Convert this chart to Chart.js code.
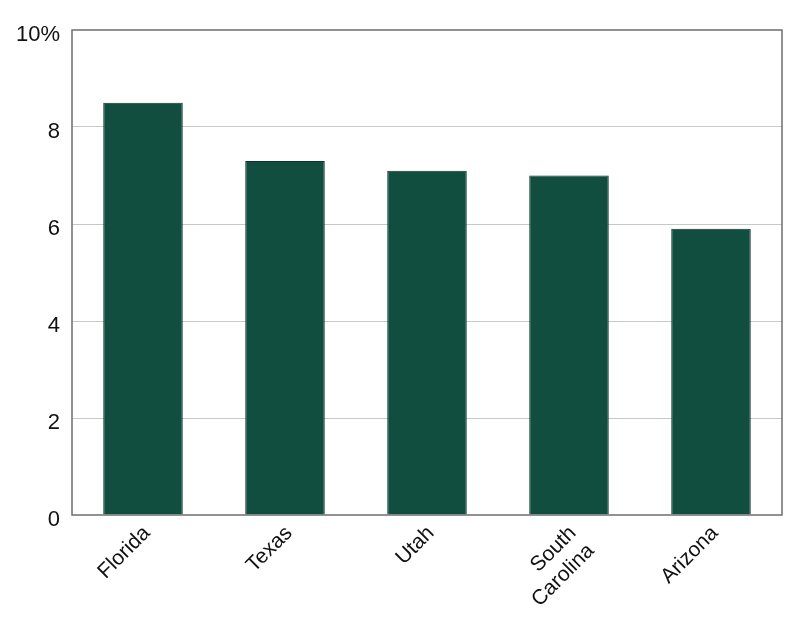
<!DOCTYPE html>
<html>
<head>
<meta charset="utf-8">
<script src="https://cdn.jsdelivr.net/npm/chart.js@4"></script>
<style>
  html, body { margin: 0; padding: 0; background: #fff; }
  #wrap { width: 800px; height: 620px; }
</style>
</head>
<body>
<div id="wrap"><canvas id="grafico"></canvas></div>
<script>
// dados do gráfico
const estados = ['Florida', 'Texas', 'Utah', ['South', 'Carolina'], 'Arizona'];
const valores = [8.5, 7.3, 7.1, 7.0, 5.9];
const yTicks = [0, 2, 4, 6, 8, 10];

// moldura em volta da área do gráfico
const moldura = {
    id: 'moldura',
    afterDatasetsDraw(chart) {
        const a = chart.chartArea;
        const ctx = chart.ctx;
        ctx.save();
        ctx.strokeStyle = '#6e6e6e';
        ctx.lineWidth = 1.5;
        ctx.strokeRect(a.left, a.top, a.right - a.left, a.bottom - a.top);
        ctx.restore();
    }
};

Chart.defaults.font.family = '"Liberation Sans", Arial, Helvetica, sans-serif';
Chart.defaults.color = '#111';

new Chart(document.getElementById('grafico').getContext('2d'), {
    type: 'bar',
    data: {
        labels: estados,
        datasets: [{
            data: valores,
            backgroundColor: '#114e40',
            borderColor: '#0a3329',
            borderWidth: 1,
            categoryPercentage: 1,
            barPercentage: 0.56
        }]
    },
    options: {
        responsive: true,
        maintainAspectRatio: false,
        animation: false,
        layout: { padding: { top: 30, right: 18, left: 0, bottom: 0 } },
        plugins: {
            legend: { display: false },
            tooltip: { enabled: false }
        },
        scales: {
            x: {
                grid: { display: false, drawTicks: false },
                border: { display: false },
                ticks: {
                    font: { size: 21 },
                    maxRotation: 45,
                    minRotation: 45,
                    padding: 6,
                    labelOffset: 4,
                    autoSkip: false
                },
                afterFit(scale) { scale.height = 105; }
            },
            y: {
                min: 0,
                max: 10,
                afterBuildTicks(scale) {
                    scale.ticks = yTicks.map(v => ({ value: v }));
                },
                grid: {
                    color: ctx => (ctx.tick && (ctx.tick.value === 0 || ctx.tick.value === 10)) ? 'rgba(0,0,0,0)' : '#c8c8c8',
                    lineWidth: 1,
                    drawTicks: false
                },
                border: { display: false },
                ticks: {
                    font: { size: 22 },
                    padding: 12,
                    labelOffset: 5,
                    callback: v => v === 10 ? '10%' : v
                },
                afterFit(scale) { scale.width = 72; }
            }
        }
    },
    plugins: [moldura]
});
</script>
</body>
</html>
